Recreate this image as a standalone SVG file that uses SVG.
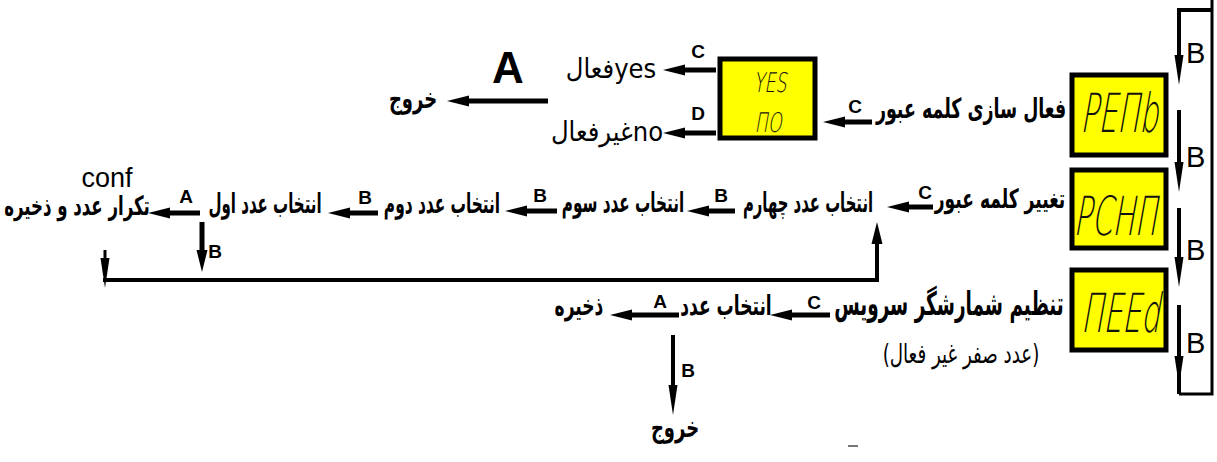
<svg xmlns="http://www.w3.org/2000/svg" width="1217" height="462" viewBox="0 0 1217 462">
<style>
.fa{font-family:"DejaVu Sans Condensed","DejaVu Sans",sans-serif;font-weight:bold;font-size:19px;fill:#000;text-anchor:middle}
.fn{font-weight:normal}
.lat{font-family:"Liberation Sans Narrow","Liberation Sans",sans-serif;fill:#000;text-anchor:middle}
.lb{font-family:"Liberation Sans Narrow","Liberation Sans",sans-serif;font-weight:bold;font-size:19px;fill:#000;text-anchor:middle}
.rb{font-family:"Liberation Sans Narrow","Liberation Sans",sans-serif;font-size:29px;fill:#000}
.yn{font-family:"Liberation Sans Narrow","DejaVu Sans Condensed",sans-serif;font-size:27px;fill:#000;text-anchor:middle}
.seg{font-family:"DejaVu Sans",sans-serif;font-weight:200;fill:#111;text-anchor:middle}
.box{fill:#ffff00;stroke:#000;stroke-width:5}
.ar{fill:none;stroke:#000;stroke-width:5}
.vr{fill:none;stroke:#000;stroke-width:4}
.ln{fill:none;stroke:#000;stroke-width:3}
</style>
<defs>
<marker id="h" markerUnits="userSpaceOnUse" markerWidth="24" markerHeight="12" viewBox="0 -6 24 12" refX="0" refY="0" orient="auto" overflow="visible">
<path d="M0,-5.5 L22,0 L0,5.5 Z" fill="#000"/>
</marker>
<marker id="v" markerUnits="userSpaceOnUse" markerWidth="32" markerHeight="10" viewBox="0 -5 32 10" refX="0" refY="0" orient="auto" overflow="visible">
<path d="M0,-4.5 L30,0 L0,4.5 Z" fill="#000"/>
</marker>
</defs>

<g id="connectors">
<path class="ar" d="M872,122 H845" marker-end="url(#h)"/>
<path class="ar" d="M716,70 H685" marker-end="url(#h)"/>
<path class="ar" d="M716,133 H685" marker-end="url(#h)"/>
<path class="ar" d="M548,101 H469" marker-end="url(#h)"/>
<path class="ar" d="M933,207 H909" marker-end="url(#h)"/>
<path class="ar" d="M735,211 H709" marker-end="url(#h)"/>
<path class="ar" d="M557,211 H527" marker-end="url(#h)"/>
<path class="ar" d="M378,213 H350" marker-end="url(#h)"/>
<path class="ar" d="M200,213 H170" marker-end="url(#h)"/>
<path class="ln" d="M105,250 V258" marker-end="url(#v)"/>
<path class="ar" d="M202,222 V250" marker-end="url(#h)"/>
<path class="vr" d="M103,280 H877 V244" marker-end="url(#h)"/>
<path class="ar" d="M830,315 H792" marker-end="url(#h)"/>
<path class="ar" d="M679,315 H632" marker-end="url(#h)"/>
<path class="vr" d="M673,335 V385" marker-end="url(#v)"/>
<path class="ln" d="M1212,0 V394 H1179"/>
<path class="vr" d="M1212,10 H1179 V55" marker-end="url(#v)"/>
<path class="vr" d="M1179,110 V162" marker-end="url(#v)"/>
<path class="vr" d="M1179,208 V257" marker-end="url(#v)"/>
<path class="vr" d="M1179,305 V394"/>
<path class="vr" d="M1179,305 V356" marker-end="url(#v)"/>
<text class="lb" x="855" y="113">C</text>
<text class="lb" x="698" y="58">C</text>
<text class="lb" x="698" y="120">D</text>
<text class="lat" x="508" y="83" style="font-size:44px;font-weight:bold">A</text>
<text class="lb" x="925" y="199">C</text>
<text class="lb" x="721" y="202">B</text>
<text class="lb" x="540" y="202">B</text>
<text class="lb" x="365" y="204">B</text>
<text class="lb" x="186" y="203">A</text>
<text class="lb" x="215" y="258">B</text>
<text class="lb" x="814" y="309">C</text>
<text class="lb" x="660" y="308">A</text>
<text class="lb" x="688" y="377">B</text>
<text class="rb" x="1186" y="63">B</text>
<text class="rb" x="1186" y="167">B</text>
<text class="rb" x="1186" y="260">B</text>
<text class="rb" x="1186" y="353">B</text>
</g>

<g id="node-penb">
<rect class="box" x="1072" y="75" width="94" height="80"/>
<text class="seg" style="font-size:54px" transform="translate(1119,132) skewX(-10) scale(0.55,1)">PEПb</text>
<text class="fa" transform="translate(971,118) scale(1.02,1.45)">فعال سازی کلمه عبور</text>
</g>

<g id="node-yesno">
<rect class="box" x="720" y="59" width="95" height="79"/>
<text class="seg" style="font-size:27px" transform="translate(770,92) skewX(-10) scale(0.65,1)">YES</text>
<text class="seg" style="font-size:27px" transform="translate(768,132) skewX(-10) scale(0.65,1)">ПO</text>
</g>

<g id="node-yes"><text class="yn" x="611" y="78">فعالyes</text></g>
<g id="node-no"><text class="yn" x="607" y="141">غیرفعالno</text></g>
<g id="node-exit1"><text class="fa" transform="translate(413,108) scale(1.05,1.45)">خروج</text></g>

<g id="node-pchn">
<rect class="box" x="1072" y="170" width="94" height="78"/>
<text class="seg" style="font-size:54px" transform="translate(1115,235) skewX(-10) scale(0.55,1)">PCHП</text>
<text class="fa" transform="translate(1000,208) scale(1,1.4)">تغییر کلمه عبور</text>
</g>
<g id="node-d4"><text class="fa" transform="translate(808,212) scale(0.87,1.45)">انتخاب عدد چهارم</text></g>
<g id="node-d3"><text class="fa" transform="translate(623,212) scale(0.89,1.45)">انتخاب عدد سوم</text></g>
<g id="node-d2"><text class="fa" transform="translate(442,213) scale(0.9,1.45)">انتخاب عدد دوم</text></g>
<g id="node-d1"><text class="fa" transform="translate(265,213) scale(0.88,1.45)">انتخاب عدد اول</text></g>
<g id="node-conf">
<text class="lat" x="107" y="187" style="font-size:27px">conf</text>
<text class="fa" transform="translate(77,215) scale(0.97,1.4)">تکرار عدد و ذخیره</text>
</g>

<g id="node-need">
<rect class="box" x="1072" y="270" width="94" height="80"/>
<text class="seg" style="font-size:54px" transform="translate(1120,332) skewX(-10) scale(0.55,1)">ПEEd</text>
<text class="fa" style="font-size:25px" transform="translate(949,315) scale(0.82,1.3)">تنظیم شمارشگر سرویس</text>
<text class="fa fn" transform="translate(961,363) scale(1.07,1.4)">(عدد صفر غیر فعال)</text>
</g>
<g id="node-num"><text class="fa" transform="translate(726,315) scale(1.0,1.45)">انتخاب عدد</text></g>
<g id="node-save"><text class="fa" transform="translate(579,315) scale(1,1.45)">ذخیره</text></g>
<g id="node-exit2"><text class="fa" transform="translate(675,437) scale(1.05,1.45)">خروج</text></g>

<path d="M848,446 H858" stroke="#777" stroke-width="2"/>
</svg>
